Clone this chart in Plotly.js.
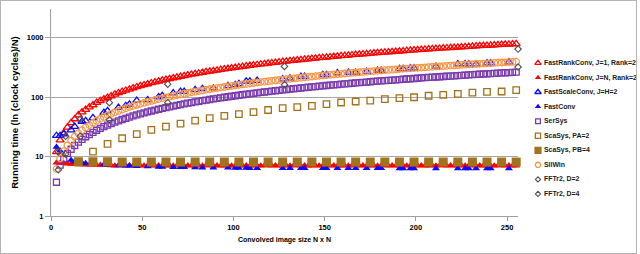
<!DOCTYPE html>
<html>
<head>
<meta charset="utf-8">
<script src="https://cdn.plot.ly/plotly-3.0.1.min.js"></script>
<style>
  html, body { margin: 0; padding: 0; background: #ffffff; }
  #wrap { position: relative; width: 640px; height: 254px; overflow: hidden; }
  #chart { position: absolute; left: 0; top: 0; width: 640px; height: 254px; }
  #frame { position: absolute; left: 0; top: 0; width: 637px; height: 254px; box-sizing: border-box;
           border: 1px solid #b4b4b4; pointer-events: none; }
</style>
</head>
<body>
<div id="wrap"><div id="chart"></div><div id="frame"></div></div>
<script>
// ---------------- data ----------------
const seriesNames = [
  "FastRankConv, J=1, Rank=2",
  "FastRankConv, J=N, Rank=2",
  "FastScaleConv, J=H=2",
  "FastConv",
  "SerSys",
  "ScaSys, PA=2",
  "ScaSys, PB=4",
  "SllWin",
  "FFTr2, D=2",
  "FFTr2, D=4"
];

const xDense = [3,5,7,9,11,13,15,17,19,21,23,25,27,29,31,33,35,37,39,41,43,45,47,49,51,53,55,57,59,61,63,65,67,69,71,73,75,77,79,81,83,85,87,89,91,93,95,97,99,101,103,105,107,109,111,113,115,117,119,121,123,125,127,129,131,133,135,137,139,141,143,145,147,149,151,153,155,157,159,161,163,165,167,169,171,173,175,177,179,181,183,185,187,189,191,193,195,197,199,201,203,205,207,209,211,213,215,217,219,221,223,225,227,229,231,233,235,237,239,241,243,245,247,249,251,253,255];

const fastRankConvJ1 = [12,19,25,31,37,43,50,56,62,68,74,81,87,93,99,105,112,118,124,130,136,143,149,155,161,167,174,180,186,192,198,205,211,217,223,229,236,242,248,254,260,267,273,279,285,291,298,304,310,316,322,329,335,341,347,353,360,366,372,378,384,391,397,403,409,415,422,428,434,440,446,453,459,465,471,477,484,490,496,502,508,515,521,527,533,539,546,552,558,564,570,577,583,589,595,601,608,614,620,626,632,639,645,651,657,663,670,676,682,688,694,701,707,713,719,725,732,738,744,750,756,763,769,775,781,787,794];

const fastRankConvJN = [7.9,7.8,7.7,7.6,7.5,7.5,7.4,7.4,7.3,7.3,7.3,7.2,7.2,7.2,7.2,
  7.1,7.0,7.1,7.1,7.0,7.1,7.0,7.0, 7.1,7.0,7.1,7.1,7.0,7.1,7.0,7.0,
  7.1,7.0,7.1,7.1,7.0,7.1,7.0,7.0, 7.1,7.0,7.1,7.1,7.0,7.1,7.0,7.0,
  7.1,7.0,7.1,7.1,7.0,7.1,7.0,7.0, 7.1,7.0,7.1,7.1,7.0,7.1,7.0,7.0,
  7.1,7.0,7.1,7.1,7.0,7.1,7.0,7.0, 7.1,7.0,7.1,7.1,7.0,7.1,7.0,7.0,
  7.1,7.0,7.1,7.1,7.0,7.1,7.0,7.0, 7.1,7.0,7.1,7.1,7.0,7.1,7.0,7.0,
  7.1,7.0,7.1,7.1,7.0,7.1,7.0,7.0, 7.1,7.0,7.1,7.1,7.0,7.1,7.0,7.0,
  7.1,7.0,7.1,7.1,7.0,7.1,7.0,7.0, 7.1,7.0,7.1,7.1,7.0,7.1,7.0,7.0];

const serSys = [3.7,7.2,9.2,11.3,13.3,15.4,17.5,19.5,21.6,23.6,25.7,27.8,29.8,31.9,33.9,36,38.1,40.1,42.2,44.2,46.3,48.4,50.4,52.5,54.5,56.6,58.7,60.7,62.8,64.8,66.9,69,71,73.1,75.1,77.2,79.3,81.3,83.4,85.4,87.5,89.6,91.6,93.7,95.7,97.8,99.9,101.9,104,106,108.1,110.2,112.2,114.3,116.3,118.4,120.5,122.5,124.6,126.6,128.7,130.8,132.8,134.9,136.9,139,141.1,143.1,145.2,147.2,149.3,151.4,153.4,155.5,157.5,159.6,161.7,163.7,165.8,167.8,169.9,172,174,176.1,178.1,180.2,182.3,184.3,186.4,188.4,190.5,192.6,194.6,196.7,198.7,200.8,202.9,204.9,207,209,211.1,213.2,215.2,217.3,219.3,221.4,223.5,225.5,227.6,229.6,231.7,233.8,235.8,237.9,239.9,242,244.1,246.1,248.2,250.2,252.3,254.4,256.4,258.5,260.5,262.6,264.7];

const sllWin = [6.2,9.3,12.4,15.5,18.6,21.7,24.8,27.9,31,34,37.2,40.3,43.4,46.5,49.6,52.7,55.8,58.9,62,65,68.2,71.3,74.4,77.5,80.6,83.7,86.8,89.9,93,96,99.2,102.3,105.4,108.5,111.6,114.7,117.8,120.9,124,127,130.2,133.3,136.4,139.5,142.6,145.7,148.8,151.9,155,158,161.2,164.3,167.4,170.5,173.6,176.7,179.8,182.9,186,189,192.2,195.3,198.4,201.5,204.6,207.7,210.8,213.9,217,220,223.2,226.3,229.4,232.5,235.6,238.7,241.8,244.9,248,251,254.2,257.3,260.4,263.5,266.6,269.7,272.8,275.9,279,282,285.2,288.3,291.4,294.5,297.6,300.7,303.8,306.9,310,313,316.2,319.3,322.4,325.5,328.6,331.7,334.8,337.9,341,344,347.2,350.3,353.4,356.5,359.6,362.7,365.8,368.9,372,375,378.2,381.3,384.4,387.5,390.6,393.7,396.8];

const xPrime = [3,5,7,11,13,17,19,23,29,31,37,41,43,47,53,59,61,67,71,73,79,83,89,97,101,103,107,109,113,127,131,137,139,149,151,157,163,167,173,179,181,191,193,197,199,211,223,227,229,233,239,241,251];

const fastScaleConv = [22.5,22.5,24,28,32,39,40,45,55,59,67,72,76,88,90,101,106,117,124,124,133,139,142,155,162,168,185,185,190,202,209,222,222,239,239,255,261,261,271,282,282,301,301,310,310,330,361,361,361,361,376,376,390];

const fastConv = [14.5,12.5,10.5,8.8,8.3,7.9,7.7,7.6,7.4,7.3,7.1,7.0,7.0,6.9,6.8,6.7,6.7,6.6,6.6,6.6,6.55,6.5,6.5,6.5,6.45,6.45,6.45,6.4,6.4,6.4,6.4,6.4,6.4,6.4,6.4,6.35,6.35,6.35,6.35,6.35,6.35,6.3,6.3,6.3,6.3,6.3,6.3,6.3,6.3,6.3,6.3,6.3,6.3];

const xScaSysPA = [23,31,39,47,55,63,71,79,87,95,103,111,119,127,135,143,151,159,167,175,183,191,199,207,215,223,231,239,247,255];
const scaSysPA2 = [12.1,16.4,20.4,23.9,28.3,32,36,40.5,44.4,48.6,51.9,56,61,65.5,68,71.6,76.5,81.5,84.7,88,93,96.6,100,106,110,114,120,123,125,132];

const xScaSysPB = [15,23,31,39,47,55,63,71,79,87,95,103,111,119,127,135,143,151,159,167,175,183,191,199,207,215,223,231,239,247,255];
const scaSysPB4 = [8.2,8.2,8.2,8.1,8.1,8.1,8.1,8.1,8.1,8.1,8.1,8.1,8.1,8.1,8.1,8.1,8.1,8.1,8.1,8.1,8.1,8.1,8.1,8.1,8.1,8.1,8.1,8.1,8.1,8.1,8.1];

const xFFT = [4,8,16,32,64,128,256];
const fftD2 = [12,22,43,81,166,330,647];
const fftD4 = [6,11,22,41.5,81,162,322];

const xTicks = [0,50,100,150,200,250];
const yTicks = [1,10,100,1000];
const yTickText = ["1","10","100","1000"];

// ---------------- styles ----------------
const FONT = "'Liberation Sans', Arial, sans-serif";
const RED = "#ff0000", BLUE = "#0a0aff", PURPLE = "#7a3aae", BROWN = "#a3721c",
      ORANGE = "#f79646", GREY = "#505050";

const styles = [
  {symbol: "triangle-up-open", size: 7, color: RED, lw: 1.3},
  {symbol: "triangle-up", size: 7, color: RED, lw: 0},
  {symbol: "triangle-up-open", size: 7, color: BLUE, lw: 1.3},
  {symbol: "triangle-up", size: 7, color: BLUE, lw: 0},
  {symbol: "square-open", size: 6, color: PURPLE, lw: 1.3},
  {symbol: "square-open", size: 6.5, color: BROWN, lw: 1.3},
  {symbol: "square", size: 9, color: BROWN, lw: 0},
  {symbol: "circle-open", size: 6.5, color: ORANGE, lw: 1.3},
  {symbol: "diamond-open", size: 5, color: GREY, lw: 1.1},
  {symbol: "diamond-open", size: 5, color: GREY, lw: 1.1}
];

const seriesX = [xDense, xDense, xPrime, xPrime, xDense, xScaSysPA, xScaSysPB, xDense, xFFT, xFFT];
const seriesY = [fastRankConvJ1, fastRankConvJN, fastScaleConv, fastConv, serSys, scaSysPA2, scaSysPB4, sllWin, fftD2, fftD4];

function mk(s, sizeScale) {
  return {symbol: s.symbol, size: s.size * (sizeScale || 1), color: s.color,
          line: {width: s.lw, color: s.color}};
}

const traces = [];
for (let i = 0; i < seriesNames.length; i++) {
  traces.push({
    type: "scatter", mode: "markers", name: seriesNames[i],
    x: seriesX[i], y: seriesY[i], xaxis: "x", yaxis: "y",
    marker: mk(styles[i]), showlegend: false, hoverinfo: "skip", cliponaxis: false
  });
}

// custom legend drawn on a helper axis pair whose units equal page pixels
const LEG_X0 = 51 + 0.81 * 587;
const legMarkX = 538, legTextX = 542, legY0 = 63, legDY = 14.55;
const annotations = [];
for (let i = 0; i < seriesNames.length; i++) {
  traces.push({
    type: "scatter", mode: "markers", x: [legMarkX], y: [legY0 + legDY * i],
    xaxis: "x2", yaxis: "y2", marker: mk(styles[i], 0.8), showlegend: false, hoverinfo: "skip"
  });
  annotations.push({
    xref: "x2", yref: "y2", x: legTextX, y: legY0 + legDY * i, text: seriesNames[i],
    showarrow: false, xanchor: "left", yanchor: "middle",
    font: {family: FONT, size: 6.9, color: "#1a1a1a", weight: "bold"}
  });
}

const layout = {
  width: 640, height: 254,
  margin: {l: 51, r: 2, t: 9, b: 38, pad: 0},
  paper_bgcolor: "#ffffff", plot_bgcolor: "#ffffff",
  showlegend: false,
  font: {family: FONT, color: "#000000"},
  xaxis: {
    domain: [0, 0.7956], range: [0, 256], tickvals: xTicks,
    ticks: "outside", ticklen: 4, tickwidth: 1, tickcolor: "#a0a0a0",
    showline: true, linecolor: "#a0a0a0", linewidth: 1,
    showgrid: false, zeroline: false,
    tickfont: {family: FONT, size: 7.5, weight: "bold", color: "#000"},
    title: {text: "Convolved image size N x N", standoff: 6,
            font: {family: FONT, size: 7, weight: "bold", color: "#000"}}
  },
  yaxis: {
    type: "log", range: [0, 3.486], tickvals: yTicks, ticktext: yTickText,
    ticks: "outside", ticklen: 5, tickwidth: 1, tickcolor: "#a0a0a0",
    showline: true, linecolor: "#a0a0a0", linewidth: 1,
    showgrid: true, gridcolor: "#a6a6a6", gridwidth: 1.2, zeroline: false,
    tickfont: {family: FONT, size: 7.5, weight: "bold", color: "#000"},
    title: {text: "Running time (ln (clock cycles)/N)", standoff: 6,
            font: {family: FONT, size: 9.5, weight: "bold", color: "#000"}}
  },
  xaxis2: {domain: [0.81, 1], range: [LEG_X0, 638], visible: false, fixedrange: true, anchor: "y2"},
  yaxis2: {domain: [0, 1], range: [216, 9], visible: false, fixedrange: true, anchor: "x2"},
  annotations: annotations
};

Plotly.newPlot("chart", traces, layout, {staticPlot: true, displayModeBar: false});
</script>
</body>
</html>
